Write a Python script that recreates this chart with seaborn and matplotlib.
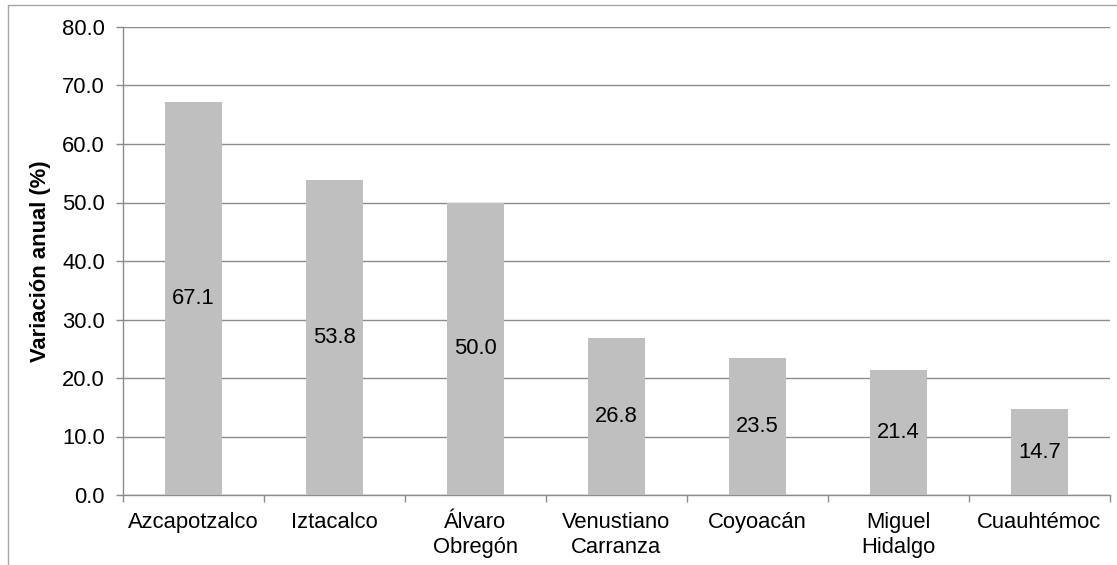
import numpy as np
import pandas as pd
import seaborn as sns
import matplotlib.pyplot as plt
from matplotlib.lines import Line2D

# data
alcaldias = ['Azcapotzalco', 'Iztacalco', 'Álvaro\nObregón', 'Venustiano\nCarranza',
             'Coyoacán', 'Miguel\nHidalgo', 'Cuauhtémoc']
variacion = [67.1, 53.8, 50.0, 26.8, 23.5, 21.4, 14.7]

df = pd.DataFrame({'alcaldia': alcaldias, 'variacion': variacion})

sns.set_style('white')
plt.rcParams['font.family'] = ['Liberation Sans', 'DejaVu Sans']
plt.rcParams['text.color'] = 'black'
plt.rcParams['xtick.color'] = 'black'
plt.rcParams['ytick.color'] = 'black'
plt.rcParams['axes.labelcolor'] = 'black'

fs = 15.8
W, H = 1117, 565
fig = plt.figure(figsize=(W / 100, H / 100), dpi=100)
ax = fig.add_axes([123 / W, 1 - 495 / H, (1110 - 123) / W, (495 - 27) / H])

grid_col = '#8c8c8c'
sns.barplot(data=df, x='alcaldia', y='variacion', color='#bfbfbf', width=0.4,
            saturation=1, edgecolor='none', linewidth=0, ax=ax, zorder=3)

# value labels at middle of each bar
for i, v in enumerate(variacion):
    ax.text(i, v / 2, f'{v:.1f}', ha='center', va='center', fontsize=fs,
            color='black', zorder=4)

ax.set_ylim(0, 80)
ax.set_xlim(-0.5, len(alcaldias) - 0.5)
ax.set_yticks(np.arange(0, 81, 10))
ax.set_yticklabels([f'{t:.1f}' for t in np.arange(0, 81, 10)])
ax.yaxis.grid(True, color=grid_col, linewidth=1, zorder=0)
ax.set_axisbelow(True)

# ticks between categories
ax.set_xticks(np.arange(-0.5, len(alcaldias), 1), minor=True)
ax.tick_params(axis='x', which='major', bottom=True, length=0, pad=12.5, labelsize=fs)
ax.tick_params(axis='x', which='minor', bottom=True, length=5, color=grid_col, width=1)
ax.tick_params(axis='y', left=True, length=5, color=grid_col, width=1, pad=8,
               labelsize=fs, labelcolor='black')

ax.set_xlabel('')
ax.set_ylabel('Variación anual (%)', fontsize=fs, fontweight='bold')
ax.yaxis.set_label_coords(-72 / (1110 - 123), 0.5)

for s in ['top', 'right']:
    ax.spines[s].set_visible(False)
for s in ['left', 'bottom']:
    ax.spines[s].set_color(grid_col)
    ax.spines[s].set_linewidth(1)

# outer chart frame
frame_col = '#a6a6a6'
fig.add_artist(Line2D([8 / W, 1], [1 - 5 / H, 1 - 5 / H], color=frame_col, lw=1))
fig.add_artist(Line2D([8 / W, 8 / W], [0, 1 - 5 / H], color=frame_col, lw=1))

fig.savefig('out.png', dpi=100)
